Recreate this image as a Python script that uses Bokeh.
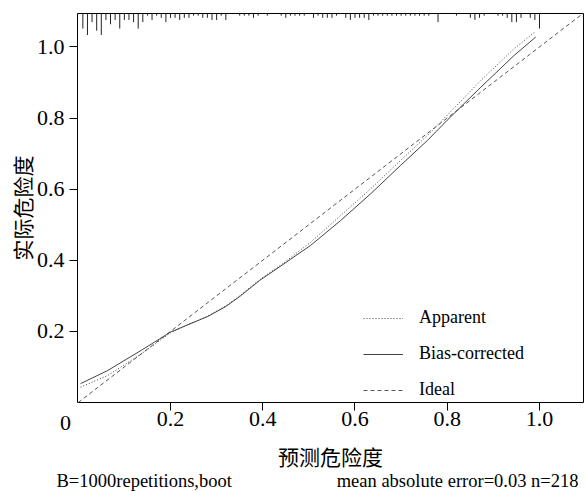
from bokeh.plotting import figure
from bokeh.models import Range1d, FixedTicker, Legend, LegendItem
from bokeh.core.properties import value
from bokeh.embed import file_html
from bokeh.resources import INLINE

# ---------------- data ----------------
apparent_x = [0.005, 0.064, 0.137, 0.200, 0.240, 0.281, 0.320, 0.350, 0.393, 0.446, 0.504,
              0.569, 0.634, 0.699, 0.757, 0.800, 0.873, 0.945, 0.990]
apparent_y = [0.043, 0.076, 0.137, 0.196, 0.220, 0.243, 0.272, 0.300, 0.345, 0.393, 0.451,
              0.526, 0.601, 0.681, 0.751, 0.808, 0.906, 0.995, 1.042]

bias_x = [0.005, 0.064, 0.137, 0.200, 0.240, 0.281, 0.320, 0.350, 0.393, 0.446, 0.504,
          0.569, 0.634, 0.699, 0.757, 0.800, 0.873, 0.945, 0.992]
bias_y = [0.053, 0.090, 0.147, 0.198, 0.220, 0.242, 0.270, 0.298, 0.343, 0.390, 0.442,
          0.512, 0.587, 0.667, 0.737, 0.794, 0.887, 0.976, 1.028]

ideal_x = [0.0, 1.1]
ideal_y = [0.0, 1.1]

rug_x = [0.01, 0.02, 0.03, 0.04, 0.05, 0.06, 0.07, 0.08, 0.09, 0.10,
         0.11, 0.12, 0.13, 0.14, 0.15, 0.16, 0.17, 0.18, 0.19, 0.20,
         0.21, 0.22, 0.23, 0.24, 0.25, 0.26, 0.27, 0.28, 0.29, 0.30,
         0.31, 0.32, 0.35, 0.36, 0.37, 0.38, 0.39, 0.41, 0.44, 0.45,
         0.46, 0.47, 0.48, 0.49, 0.51, 0.52, 0.53, 0.54, 0.55, 0.56,
         0.58, 0.59, 0.60, 0.61, 0.62, 0.63, 0.64, 0.65, 0.66, 0.67,
         0.68, 0.69, 0.70, 0.71, 0.72, 0.73, 0.74, 0.75, 0.76, 0.78,
         0.82, 0.85, 0.86, 0.87, 0.88, 0.91, 0.92, 0.93, 0.94, 0.95,
         0.96, 0.98, 0.99, 1.00]
rug_counts = [7, 10, 4, 8, 10, 3, 5, 3, 7, 3,
              3, 4, 7, 4, 1, 3, 1, 2, 4, 2,
              2, 3, 2, 2, 1, 1, 2, 2, 3, 3,
              1, 3, 1, 1, 1, 2, 1, 1, 1, 2,
              1, 1, 1, 1, 2, 1, 2, 2, 2, 1,
              2, 3, 2, 2, 2, 3, 1, 1, 1, 1,
              1, 1, 1, 1, 1, 1, 1, 1, 1, 4,
              1, 2, 3, 2, 1, 1, 1, 2, 4, 4,
              2, 2, 3, 7]

tick_values = [0.2, 0.4, 0.6, 0.8, 1.0]
tick_labels = ["0.2", "0.4", "0.6", "0.8", "1.0"]
origin_label = "0"

legend_labels = ["Apparent", "Bias-corrected", "Ideal"]
x_title = "预测危险度"
y_title = "实际危险度"
left_note = "B=1000repetitions,boot"
right_note = "mean absolute error=0.03 n=218"

# ---------------- layout ----------------
W, H = 586, 492
BL, BR, BT, BB = 77, 3, 13, 90
X_MIN, X_MAX = -0.0016, 1.0954
Y_MIN, Y_MAX = 0.0, 1.094
SERIF = "Liberation Serif"
CJK = "Noto Sans CJK SC"

FRAME_W = W - BL - BR
FRAME_H = H - BT - BB


def px_to_x(dx):
    """horizontal pixel offset from the frame's left edge -> data x"""
    return X_MIN + dx * (X_MAX - X_MIN) / FRAME_W


def px_to_y(dy):
    """vertical pixel offset above the frame's bottom edge -> data y"""
    return Y_MIN + dy * (Y_MAX - Y_MIN) / FRAME_H


p = figure(width=W, height=H, output_backend="svg", toolbar_location=None,
           x_range=Range1d(X_MIN, X_MAX), y_range=Range1d(Y_MIN, Y_MAX),
           min_border_left=BL, min_border_right=BR, min_border_top=BT,
           min_border_bottom=BB)
p.grid.visible = False
p.outline_line_color = "black"
p.outline_line_width = 1
p.background_fill_color = "white"
p.border_fill_color = "white"

for ax in (p.xaxis[0], p.yaxis[0]):
    ax.ticker = FixedTicker(ticks=tick_values)
    ax.major_label_overrides = dict(zip(tick_values, tick_labels))
    ax.axis_line_color = None
    ax.major_tick_in = 0
    ax.major_tick_out = 8
    ax.major_tick_line_color = "black"
    ax.minor_tick_line_color = None
    ax.major_label_text_font = SERIF
    ax.major_label_text_font_size = "22px"
    ax.major_label_text_color = "black"
    ax.axis_label_text_font = CJK
    ax.axis_label_text_font_size = "21px"
    ax.axis_label_text_font_style = "normal"
    ax.axis_label_text_color = "black"

p.xaxis.axis_label = x_title
p.yaxis.axis_label = y_title
p.xaxis.major_label_standoff = 1
p.xaxis.axis_label_standoff = 12
p.yaxis.major_label_standoff = 5
p.yaxis.axis_label_standoff = -3

# rug (spike histogram of predictions) hanging from the top
rug_unit = px_to_y(2.15) - Y_MIN
rug_bottom = [Y_MAX - c * rug_unit for c in rug_counts]
p.segment(x0=rug_x, y0=[Y_MAX] * len(rug_x), x1=rug_x, y1=rug_bottom,
          line_color="#222222", line_width=1)

r_ideal = p.line(ideal_x, ideal_y, line_color="#555555", line_width=1, line_dash="4 3")
r_app = p.line(apparent_x, apparent_y, line_color="#444444", line_width=1, line_dash="1 2")
r_bias = p.line(bias_x, bias_y, line_color="#444444", line_width=1)

legend = Legend(items=[LegendItem(label=legend_labels[0], renderers=[r_app]),
                       LegendItem(label=legend_labels[1], renderers=[r_bias]),
                       LegendItem(label=legend_labels[2], renderers=[r_ideal])],
                location=(286, 2), orientation="vertical",
                glyph_width=40, glyph_height=20, label_height=20,
                label_standoff=16, spacing=15, padding=0, margin=0,
                border_line_alpha=0, background_fill_alpha=0,
                label_text_font=SERIF, label_text_font_size="18px",
                label_text_color="black")
p.add_layout(legend)

# texts outside the frame (overlay level -> not clipped to the frame)
p.text(x=[px_to_x(-12)], y=[px_to_y(-20)], text=[origin_label], level="overlay",
       text_font=value(SERIF), text_font_size=value("22px"), text_color="black",
       text_align="center", text_baseline="middle")
p.text(x=[px_to_x(-21)], y=[px_to_y(-78)], text=[left_note], level="overlay",
       text_font=value(SERIF), text_font_size=value("18.5px"), text_color="black",
       text_align="left", text_baseline="alphabetic")
p.text(x=[px_to_x(FRAME_W - 5)], y=[px_to_y(-78)], text=[right_note], level="overlay",
       text_font=value(SERIF), text_font_size=value("18.5px"), text_color="black",
       text_align="right", text_baseline="alphabetic")

open("out.html", "w").write(file_html(p, INLINE))
